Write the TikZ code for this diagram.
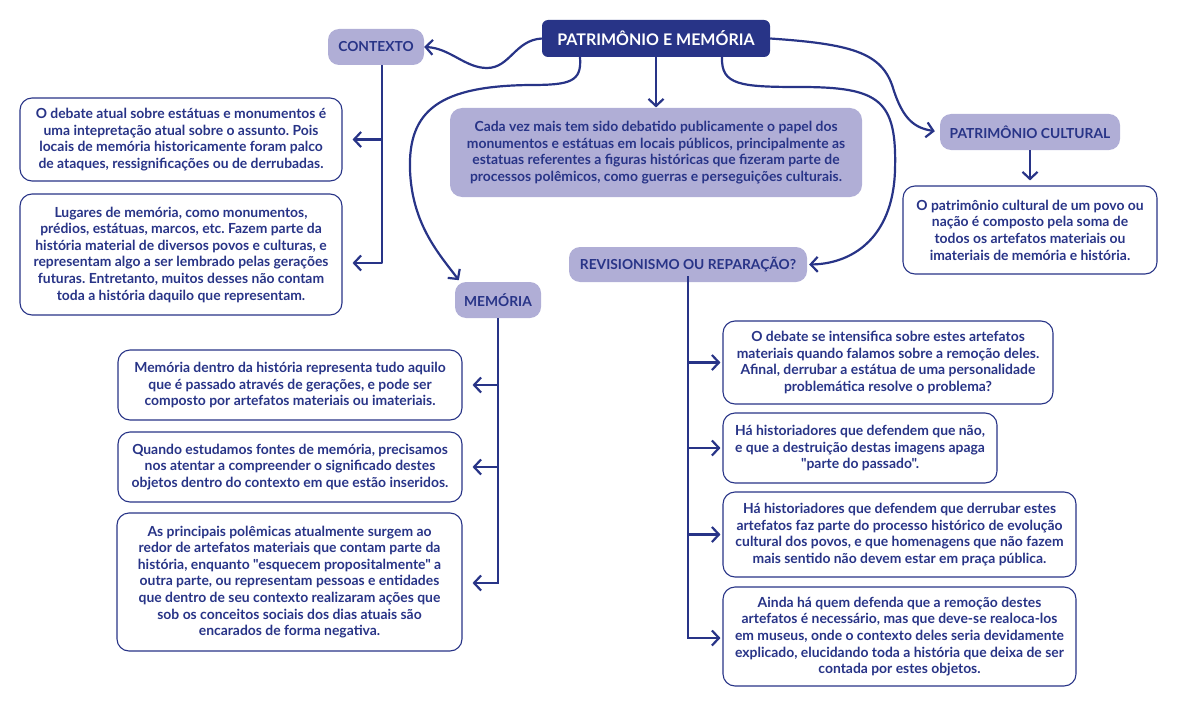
\documentclass[tikz,border=0pt]{standalone}
\usepackage{fontspec}
\setmainfont{Lato}[Ligatures=TeXOff]
\usetikzlibrary{arrows.meta}
\definecolor{navy}{RGB}{40,52,135}
\definecolor{lilac}{RGB}{176,174,214}
\frenchspacing
\begin{document}
\begin{tikzpicture}[x=1pt,y=-1pt,
	title/.style={fill=navy,text=white,rounded corners=6pt,inner sep=0pt,font=\bfseries\fontsize{16}{19}\selectfont},
	label/.style={fill=lilac,text=navy,rounded corners=11pt,inner sep=0pt,font=\bfseries\fontsize{13.8}{16}\selectfont},
	textbox/.style={draw=navy,line width=1.1pt,fill=white,text=navy,rounded corners=12pt,inner sep=0pt,align=center,font=\bfseries\fontsize{13.9}{16.6}\selectfont},
	arr/.style={draw=navy,line width=2.2pt,-{Straight Barb[length=7pt,width=15pt]}},
	line/.style={draw=navy,line width=2.2pt}]
				\useasboundingbox (0,0) rectangle (1177,706);
				% Title and headings
				\node [title,minimum width=228pt,minimum height=37pt] (top) at (656,38.5) {PATRIMÔNIO E MEMÓRIA};
				\node [label,minimum width=96pt,minimum height=36pt] (ctx) at (376,47) {CONTEXTO};
				\node [label,minimum width=180pt,minimum height=36pt] (pc) at (1030,132) {PATRIMÔNIO CULTURAL};
				\node [label,minimum width=238pt,minimum height=35pt] (rev) at (688,264.5) {REVISIONISMO OU REPARAÇÃO?};
				\node [label,minimum width=86pt,minimum height=36pt] (mem) at (498,300) {MEMÓRIA};
				% Central box
				\node [textbox,draw=none,fill=lilac,minimum width=412pt,minimum height=89pt] (ctr) at (656,152.5) {Cada vez mais tem sido debatido publicamente o papel dos\\monumentos e estátuas em locais públicos, principalmente as\\estatuas referentes a figuras históricas que fizeram parte de\\processos polêmicos, como guerras e perseguições culturais.};
				% Contexto
				\node [textbox,minimum width=322pt,minimum height=83pt] (c1) at (181,139.5) {O debate atual sobre estátuas e monumentos é\\uma intepretação atual sobre o assunto. Pois\\locais de memória historicamente foram palco\\de ataques, ressignificações ou de derrubadas.};
				\node [textbox,minimum width=322pt,minimum height=121pt] (c2) at (181,254.5) {Lugares de memória, como monumentos,\\prédios, estátuas, marcos, etc. Fazem parte da\\história material de diversos povos e culturas, e\\representam algo a ser lembrado pelas gerações\\futuras. Entretanto, muitos desses não contam\\toda a história daquilo que representam.};
				% Patrimonio cultural
				\node [textbox,minimum width=254pt,minimum height=88pt] (pcbox) at (1030,230) {O patrimônio cultural de um povo ou\\nação é composto pela soma de\\todos os artefatos materiais ou\\imateriais de memória e história.};
				% Memoria
				\node [textbox,minimum width=344pt,minimum height=70pt] (m1) at (290,385) {Memória dentro da história representa tudo aquilo\\que é passado através de gerações, e pode ser\\composto por artefatos materiais ou imateriais.};
				\node [textbox,minimum width=344pt,minimum height=70pt] (m2) at (290,467) {Quando estudamos fontes de memória, precisamos\\nos atentar a compreender o significado destes\\objetos dentro do contexto em que estão inseridos.};
				\node [textbox,minimum width=345pt,minimum height=138pt] (m3) at (289.5,582) {As principais polêmicas atualmente surgem ao\\redor de artefatos materiais que contam parte da\\história, enquanto "esquecem propositalmente" a\\outra parte, ou representam pessoas e entidades\\que dentro de seu contexto realizaram ações que\\sob os conceitos sociais dos dias atuais são\\encarados de forma negativa.};
				% Revisionismo
				\node [textbox,minimum width=330pt,minimum height=83pt] (r1) at (888,362.5) {O debate se intensifica sobre estes artefatos\\materiais quando falamos sobre a remoção deles.\\Afinal, derrubar a estátua de uma personalidade\\problemática resolve o problema?};
				\node [textbox,minimum width=274pt,minimum height=70pt] (r2) at (860,448) {Há historiadores que defendem que não,\\e que a destruição destas imagens apaga\\"parte do passado".};
				\node [textbox,minimum width=353pt,minimum height=85pt] (r3) at (899.5,534.5) {Há historiadores que defendem que derrubar estes\\artefatos faz parte do processo histórico de evolução\\cultural dos povos, e que homenagens que não fazem\\mais sentido não devem estar em praça pública.};
				\node [textbox,minimum width=353pt,minimum height=99pt] (r4) at (899.5,636.5) {Ainda há quem defenda que a remoção destes\\artefatos é necessário, mas que deve-se realoca-los\\em museus, onde o contexto deles seria devidamente\\explicado, elucidando toda a história que deixa de ser\\contada por estes objetos.};
				% Curves from the title
				\draw [arr] (top.west) .. controls (515,40) and (510,68) .. (487,68) .. controls (465,68) and (450,48) .. (ctx.east);
				\draw [arr,shorten >=5pt] (top.east) .. controls (850,44) and (882,52) .. (893,88) .. controls (903,120) and (915,128) .. (pc.west);
				\draw [arr,shorten >=2pt] ([xshift=66pt]top.south) .. controls (721,85) and (740,87) .. (800,87) .. controls (880,87) and (897,100) .. (895,170) .. controls (893,240) and (850,264) .. (rev.east);
				\draw [arr,shorten >=2pt] ([xshift=-76pt]top.south) .. controls (582,82) and (570,85) .. (530,85) .. controls (440,86) and (408,110) .. (410,170) .. controls (412,225) and (440,255) .. ([xshift=-38pt]mem.north);
				\draw [arr] (top.south) -- (ctr.north);
				\draw [arr,shorten >=5pt] (pc.south) -- (pcbox.north);
				% Contexto branches
				\coordinate (ctxend) at (382,263);
				\draw [line] (ctx.south -| ctxend) -- (ctxend |- c1.east);
				\draw [arr,shorten >=10pt] (ctxend |- c1.east) -- (c1.east);
				\draw [arr,shorten >=10pt,line join=round] (ctxend |- c1.east) -- (ctxend) -- (c2.east |- ctxend);
				% Memoria branches
				\coordinate (memend) at (498,583);
				\draw [line] (mem.south) -- (memend |- m1.east);
				\draw [arr,shorten >=10pt] (memend |- m1.east) -- (m1.east);
				\draw [arr,shorten >=10pt] (memend |- m2.east) -- (m2.east);
				\draw [arr,shorten >=10pt] (memend |- m1.east) -- (memend) -- (m3.east |- memend);
				% Revisionismo branches
				\coordinate (revend) at (688,638);
				\draw [line] ([yshift=6pt]rev.south) -- (revend |- r1.west);
				\draw [arr,shorten >=2pt] (revend |- r1.west) -- (r1.west);
				\draw [arr,shorten >=2pt] (revend |- r2.west) -- (r2.west);
				\draw [arr,shorten >=2pt] (revend |- r3.west) -- (r3.west);
				\draw [arr,shorten >=2pt] (revend |- r1.west) -- (revend) -- (r4.west |- revend);
			\end{tikzpicture}
\end{document}
